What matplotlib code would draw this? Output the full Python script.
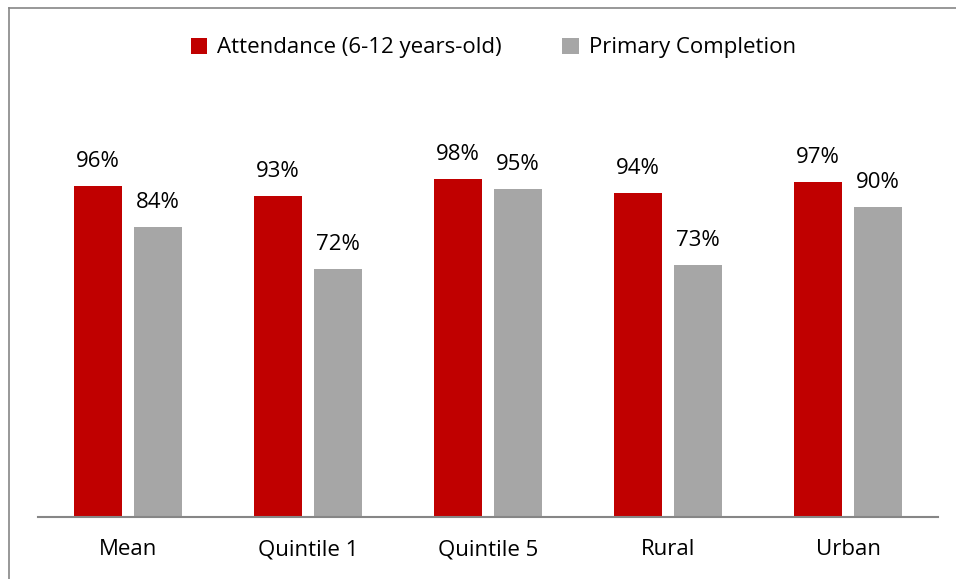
import matplotlib
matplotlib.use("Agg")
import matplotlib.pyplot as plt
from matplotlib.lines import Line2D
from matplotlib.patches import Patch
import numpy as np

categories = ["Mean", "Quintile 1", "Quintile 5", "Rural", "Urban"]
attendance = [96, 93, 98, 94, 97]
completion = [84, 72, 95, 73, 90]
series_names = ["Attendance (6-12 years-old)", "Primary Completion"]

RED = "#C00000"
GRAY = "#A6A6A6"
FONT = ["Open Sans", "DejaVu Sans"]
plt.rcParams["font.family"] = FONT
FS = 16

W, H = 956, 579
fig = plt.figure(figsize=(W / 100, H / 100), dpi=100)
ax = fig.add_axes([38 / W, (H - 517) / H, 900 / W, (517 - 103) / H])

x = np.arange(len(categories))
bw = 0.267
off = 0.1667
b1 = ax.bar(x - off, attendance, bw, color=RED)
b2 = ax.bar(x + off, completion, bw, color=GRAY)

for bars, vals in ((b1, attendance), (b2, completion)):
    for r, v in zip(bars, vals):
        ax.annotate(f"{v}%", (r.get_x() + r.get_width() / 2, r.get_height()),
                    xytext=(0, 10), textcoords="offset points",
                    ha="center", va="bottom", fontsize=FS, color="black")

ax.set_xlim(-0.5, 4.5)
ax.set_ylim(0, 120)
ax.set_xticks(x)
ax.set_xticklabels(categories, fontsize=FS)
ax.tick_params(axis="x", length=0, pad=16)
ax.set_yticks([])
for s in ("top", "right", "left"):
    ax.spines[s].set_visible(False)
ax.spines["bottom"].set_color("#868686")
ax.spines["bottom"].set_linewidth(1.5)

handles = [Patch(facecolor=RED), Patch(facecolor=GRAY)]
fig.legend(handles, series_names, loc="center", bbox_to_anchor=(0.516, 1 - 48 / H),
           ncol=2, frameon=False, fontsize=FS, handlelength=0.75, handleheight=0.75,
           handletextpad=0.45, columnspacing=2.7)

# outer chart border (top and left visible)
fig.add_artist(Line2D([9 / W, 9 / W], [0, 1 - 8 / H], transform=fig.transFigure,
                      color="#868686", lw=1.2))
fig.add_artist(Line2D([9 / W, 1], [1 - 8 / H, 1 - 8 / H], transform=fig.transFigure,
                      color="#868686", lw=1.2))

fig.savefig("out.png", dpi=100)
